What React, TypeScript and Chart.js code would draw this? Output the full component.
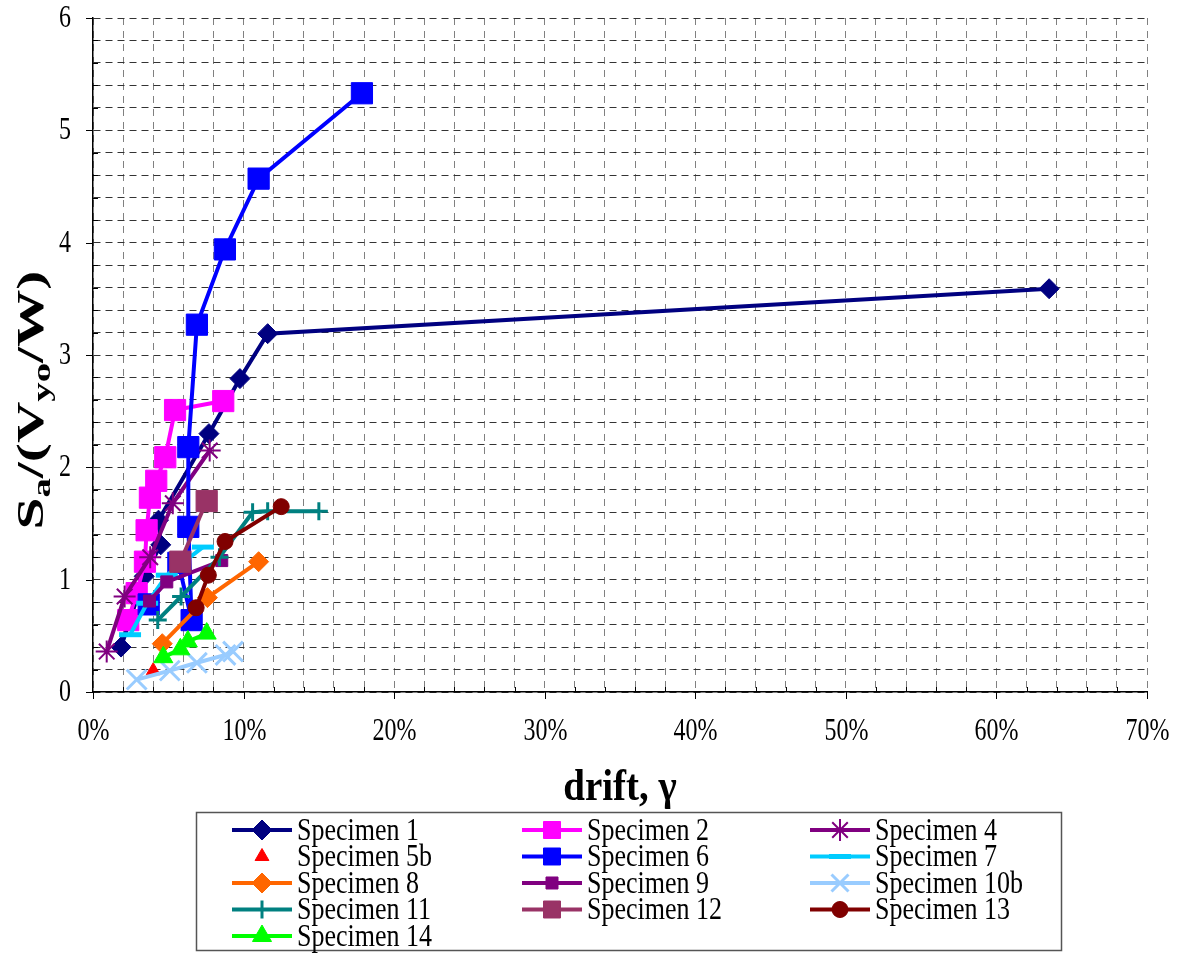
import React, { useEffect, useRef } from 'react';
import { Chart, registerables } from 'chart.js';
import { drawPoint } from 'chart.js/helpers';

Chart.register(...registerables);

// ---- data (drift in %, Sa/(Vyo/W)) ----
const xTickLabels = ['0%', '10%', '20%', '30%', '40%', '50%', '60%', '70%'];
const yTickLabels = ['0', '1', '2', '3', '4', '5', '6'];

const spec1Drift = [1.86, 3.4, 4.5, 4.35, 7.7, 9.76, 11.6, 63.5];
const spec1Sa = [0.40, 1.03, 1.31, 1.53, 2.30, 2.79, 3.19, 3.59];
const spec2Drift = [2.34, 2.9, 3.45, 3.56, 3.78, 4.2, 4.8, 5.45, 8.65];
const spec2Sa = [0.64, 0.88, 1.16, 1.44, 1.73, 1.88, 2.09, 2.51, 2.59];
const spec4Drift = [0.91, 2.1, 3.8, 5.3, 7.75];
const spec4Sa = [0.36, 0.85, 1.2, 1.68, 2.15];
const spec5bDrift = [4.0];
const spec5bSa = [0.19];
const spec6Drift = [3.7, 5.67, 6.55, 6.33, 6.33, 6.9, 8.76, 11.0, 17.86];
const spec6Sa = [0.78, 1.15, 0.64, 1.47, 2.18, 3.27, 3.94, 4.57, 5.33];
const spec7Drift = [2.46, 3.6, 4.9, 7.3];
const spec7Sa = [0.51, 0.79, 1.04, 1.29];
const spec8Drift = [4.6, 7.6, 11.0];
const spec8Sa = [0.43, 0.84, 1.16];
const spec9Drift = [3.75, 4.9, 8.55];
const spec9Sa = [0.81, 0.98, 1.17];
const spec10bDrift = [2.9, 5.1, 6.9, 8.8, 9.3];
const spec10bSa = [0.11, 0.19, 0.26, 0.33, 0.36];
const spec11Drift = [4.3, 5.85, 8.4, 10.6, 11.6, 15.0];
const spec11Sa = [0.64, 0.85, 1.2, 1.6, 1.61, 1.61];
const spec12Drift = [5.8, 7.55];
const spec12Sa = [1.16, 1.70];
const spec13Drift = [6.85, 7.66, 8.77, 12.5];
const spec13Sa = [0.75, 1.04, 1.34, 1.65];
const spec14Drift = [4.67, 5.8, 6.3, 7.55];
const spec14Sa = [0.31, 0.38, 0.45, 0.52];

type Series = {
  label: string; drift: number[]; sa: number[]; color: string;
  style: string; radius: number; pbw: number; line: boolean;
};

const series: Series[] = [
  { label: 'Specimen 1', drift: spec1Drift, sa: spec1Sa, color: '#000080', style: 'rectRot', radius: 10, pbw: 1, line: true },
  { label: 'Specimen 2', drift: spec2Drift, sa: spec2Sa, color: '#FF00FF', style: 'rect', radius: 15, pbw: 1, line: true },
  { label: 'Specimen 4', drift: spec4Drift, sa: spec4Sa, color: '#800080', style: 'star', radius: 11, pbw: 2, line: true },
  { label: 'Specimen 5b', drift: spec5bDrift, sa: spec5bSa, color: '#FF0000', style: 'triangle', radius: 8, pbw: 1, line: false },
  { label: 'Specimen 6', drift: spec6Drift, sa: spec6Sa, color: '#0000FF', style: 'rect', radius: 15, pbw: 1, line: true },
  { label: 'Specimen 7', drift: spec7Drift, sa: spec7Sa, color: '#00CCFF', style: 'line', radius: 11, pbw: 5, line: true },
  { label: 'Specimen 8', drift: spec8Drift, sa: spec8Sa, color: '#FF6600', style: 'rectRot', radius: 10, pbw: 1, line: true },
  { label: 'Specimen 9', drift: spec9Drift, sa: spec9Sa, color: '#800080', style: 'rect', radius: 8.5, pbw: 1, line: true },
  { label: 'Specimen 10b', drift: spec10bDrift, sa: spec10bSa, color: '#99CCFF', style: 'crossRot', radius: 14, pbw: 3, line: true },
  { label: 'Specimen 11', drift: spec11Drift, sa: spec11Sa, color: '#008080', style: 'cross', radius: 9, pbw: 3, line: true },
  { label: 'Specimen 12', drift: spec12Drift, sa: spec12Sa, color: '#993366', style: 'rect', radius: 15, pbw: 1, line: true },
  { label: 'Specimen 13', drift: spec13Drift, sa: spec13Sa, color: '#800000', style: 'circle', radius: 8, pbw: 1, line: true },
  { label: 'Specimen 14', drift: spec14Drift, sa: spec14Sa, color: '#00FF00', style: 'triangle', radius: 11, pbw: 1, line: true },
];

const FONT = '"Liberation Serif", "Times New Roman", serif';
const STRETCH = 1.3;

function stretchedText(ctx: CanvasRenderingContext2D, text: string, x: number, y: number, font: string,
  align: CanvasTextAlign, sy: number) {
  ctx.save();
  ctx.translate(x, y);
  ctx.scale(1, sy);
  ctx.font = font;
  ctx.textAlign = align;
  ctx.textBaseline = 'middle';
  ctx.fillText(text, 0, 0);
  ctx.restore();
}

const decorPlugin = {
  id: 'decor',
  afterDraw(chart: any) {
    const ctx: CanvasRenderingContext2D = chart.ctx;
    const xs = chart.scales.x;
    const ys = chart.scales.y;
    const area = chart.chartArea;
    ctx.save();
    ctx.strokeStyle = '#000';
    ctx.fillStyle = '#000';
    ctx.lineWidth = 1;
    // y ticks: major outside, minor inside; labels
    for (let i = 0; i <= 30; i++) {
      const v = i * 0.2;
      const py = Math.round(ys.getPixelForValue(v)) + 0.5;
      ctx.beginPath();
      if (i % 5 === 0) { ctx.moveTo(area.left - 7, py); ctx.lineTo(area.left, py); }
      else { ctx.moveTo(area.left, py); ctx.lineTo(area.left + 5, py); }
      ctx.stroke();
      if (i % 5 === 0) {
        stretchedText(ctx, yTickLabels[i / 5], area.left - 22, py, '24px ' + FONT, 'right', STRETCH);
      }
    }
    // x ticks and labels
    for (let i = 0; i <= 35; i++) {
      const v = i * 2;
      const px = Math.round(xs.getPixelForValue(v)) + 0.5;
      ctx.beginPath();
      if (i % 5 === 0) { ctx.moveTo(px, area.bottom); ctx.lineTo(px, area.bottom + 7); }
      else { ctx.moveTo(px, area.bottom); ctx.lineTo(px, area.bottom - 5); }
      ctx.stroke();
      if (i % 5 === 0) {
        stretchedText(ctx, xTickLabels[i / 5], px, area.bottom + 40, '24px ' + FONT, 'center', STRETCH);
      }
    }

    // x title
    stretchedText(ctx, 'drift, \u03B3', (area.left + area.right) / 2, 788, 'bold 39px ' + FONT, 'center', 1.15);

    // y title with subscripts (stretched along the page's vertical direction)
    const parts: [string, boolean][] = [['S', false], ['a', true], ['/(V', false], ['yo', true], ['/W)', false]];
    const big = 'bold 37px ' + FONT;
    const small = 'bold 25px ' + FONT;
    let total = 0;
    for (const [t, sub] of parts) { ctx.font = sub ? small : big; total += ctx.measureText(t).width; }
    ctx.save();
    ctx.translate(31, 400);
    ctx.rotate(-Math.PI / 2);
    ctx.scale(1.55, 1);
    ctx.textAlign = 'left';
    ctx.textBaseline = 'alphabetic';
    let x = -total / 2;
    for (const [t, sub] of parts) {
      ctx.font = sub ? small : big;
      ctx.fillText(t, x, sub ? 19 : 12);
      x += ctx.measureText(t).width;
    }
    ctx.restore();

    // legend
    const boxL = 196, boxT = 812, boxR = 1062, boxB = 951;
    ctx.fillStyle = '#fff';
    ctx.fillRect(boxL, boxT, boxR - boxL, boxB - boxT);
    ctx.strokeStyle = '#555';
    ctx.lineWidth = 1.5;
    ctx.strokeRect(boxL + 0.5, boxT + 0.5, boxR - boxL - 1, boxB - boxT - 1);
    const colX = [232, 522, 810];
    const rowY0 = 830, rowH = 26.5;
    series.forEach((s, i) => {
      const c = i % 3, r = Math.floor(i / 3);
      const lx = colX[c], ly = rowY0 + r * rowH;
      if (s.line) {
        ctx.strokeStyle = s.color;
        ctx.lineWidth = 4;
        ctx.beginPath(); ctx.moveTo(lx, ly); ctx.lineTo(lx + 60, ly); ctx.stroke();
      }
      ctx.strokeStyle = s.color;
      ctx.fillStyle = s.color;
      ctx.lineWidth = s.pbw;
      const rad = Math.min(s.radius, s.style === 'line' ? 11 : 12);
      drawPoint(ctx, { pointStyle: s.style as any, radius: rad, borderWidth: s.pbw, rotation: 0 } as any, lx + 30, ly);
      ctx.fillStyle = '#000';
      stretchedText(ctx, s.label, lx + 65, ly + 1, '26px ' + FONT, 'left', 1.25);
    });
    ctx.restore();
  },
};

export default function App() {
  const ref = useRef<HTMLCanvasElement | null>(null);
  useEffect(() => {
    document.body.style.margin = '0';
    if (!ref.current) return;
    const datasets = series.map((s, i) => ({
      label: s.label,
      data: s.drift.map((d, k) => ({ x: d, y: s.sa[k] })),
      showLine: s.line,
      borderColor: s.color,
      backgroundColor: s.color,
      borderWidth: 4,
      pointStyle: s.style as any,
      pointRadius: s.radius,
      pointBorderWidth: s.pbw,
      pointBackgroundColor: s.color,
      pointBorderColor: s.color,
      order: -i,
    }));
    const chart = new Chart(ref.current, {
      type: 'scatter',
      data: { datasets },
      options: {
        responsive: false,
        animation: false,
        devicePixelRatio: 1,
        layout: { padding: { left: 0, right: 32, top: 18, bottom: 0 } },
        plugins: { legend: { display: false }, tooltip: { enabled: false }, title: { display: false } },
        scales: {
          x: {
            type: 'linear', min: 0, max: 70,
            afterFit: (sc: any) => { sc.height = 261; },
            ticks: { display: false, stepSize: 2, autoSkip: false, maxRotation: 0 },
            grid: { color: '#808080', lineWidth: 1, drawTicks: false },
            border: { display: true, color: '#000', width: 1.5, dash: [7, 6] },
          },
          y: {
            type: 'linear', min: 0, max: 6,
            afterFit: (sc: any) => { sc.width = 93; },
            ticks: { display: false, stepSize: 0.2, autoSkip: false },
            grid: { color: '#333', lineWidth: 1, drawTicks: false },
            border: { display: true, color: '#000', width: 1.5, dash: [7, 5] },
          },
        },
      },
      plugins: [decorPlugin],
    });
    return () => chart.destroy();
  }, []);
  return (
    <div style={{ width: 1179, height: 953 }}>
      <canvas ref={ref} width={1179} height={953} style={{ display: 'block' }} />
    </div>
  );
}
